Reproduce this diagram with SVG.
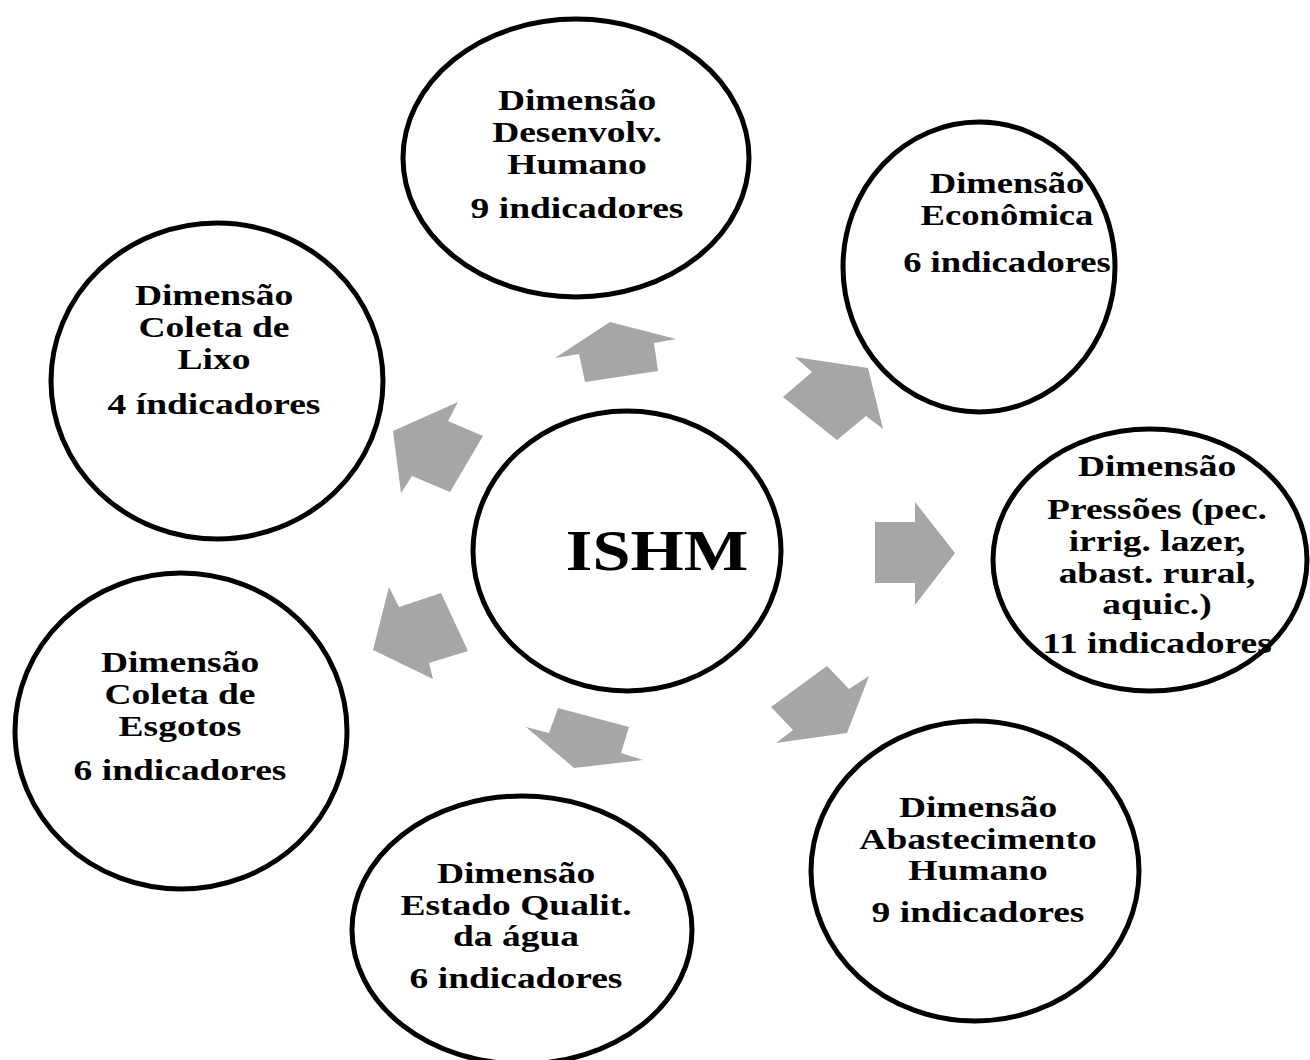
<svg xmlns="http://www.w3.org/2000/svg" width="1310" height="1060" viewBox="0 0 1310 1060">
<style>
.node ellipse{fill:#fff;stroke:#000;stroke-width:5}
.t{font-family:"Liberation Serif","Times New Roman",serif;font-weight:bold;font-size:30px;text-anchor:middle;fill:#000}
.big{font-size:57px}
.arr{fill:#a6a6a6;stroke:none}
</style>
<rect width="1310" height="1060" fill="#fff"/>
<g id="connectors">
<polygon class="arr" points="610,322 676,339 654,343 658,371 585,382 579,354 555,358"/>
<polygon class="arr" points="795,357 868,368 883,429 866,416 837,440 783,397 812,372"/>
<polygon class="arr" points="875,522 915,522 915,502 955,553 915,605 915,583 875,583"/>
<polygon class="arr" points="827,666 849,689 869,676 847,733 776,743 793,730 771,707"/>
<polygon class="arr" points="558,708 629,727 621,753 643,760 574,768 526,727 549,733"/>
<polygon class="arr" points="389,587 399,607 441,593 468,651 429,663 433,679 373,650"/>
<polygon class="arr" points="458,402 448,421 483,436 450,492 412,476 401,493 393,431"/>
</g>
<g id="node-ishm" class="node">
<ellipse cx="627" cy="551" rx="154" ry="140"/>
<g transform="translate(657 0) scale(1.2 1)"><text class="t big" x="0" y="570">ISHM</text></g>
</g>
<g id="node-desenvolv" class="node">
<ellipse cx="576" cy="158" rx="173" ry="139"/>
<g transform="translate(577 0) scale(1.25 1)">
<text class="t" x="0" y="110">Dimensão</text>
<text class="t" x="0" y="142">Desenvolv.</text>
<text class="t" x="0" y="174">Humano</text>
<text class="t" x="0" y="218">9 indicadores</text>
</g>
</g>
<g id="node-economica" class="node">
<ellipse cx="979" cy="267" rx="136" ry="145"/>
<g transform="translate(1007 0) scale(1.22 1)">
<text class="t" x="0" y="193">Dimensão</text>
<text class="t" x="0" y="225">Econômica</text>
<text class="t" x="0" y="272">6 indicadores</text>
</g>
</g>
<g id="node-pressoes" class="node">
<ellipse cx="1150" cy="560" rx="157" ry="131"/>
<g transform="translate(1157 0) scale(1.25 1)">
<text class="t" x="0" y="476">Dimensão</text>
<text class="t" x="0" y="519">Pressões (pec.</text>
<text class="t" x="0" y="551">irrig. lazer,</text>
<text class="t" x="0" y="583">abast. rural,</text>
<text class="t" x="0" y="614">aquic.)</text>
<text class="t" x="0" y="653">11 indicadores</text>
</g>
</g>
<g id="node-abastecimento" class="node">
<ellipse cx="975" cy="871" rx="164" ry="150"/>
<g transform="translate(978 0) scale(1.25 1)">
<text class="t" x="0" y="817">Dimensão</text>
<text class="t" x="0" y="849">Abastecimento</text>
<text class="t" x="0" y="880">Humano</text>
<text class="t" x="0" y="922">9 indicadores</text>
</g>
</g>
<g id="node-estado" class="node">
<ellipse cx="522" cy="930" rx="170" ry="134"/>
<g transform="translate(516 0) scale(1.25 1)">
<text class="t" x="0" y="883">Dimensão</text>
<text class="t" x="0" y="915">Estado Qualit.</text>
<text class="t" x="0" y="946">da água</text>
<text class="t" x="0" y="988">6 indicadores</text>
</g>
</g>
<g id="node-esgotos" class="node">
<ellipse cx="181" cy="731" rx="166" ry="158"/>
<g transform="translate(180 0) scale(1.25 1)">
<text class="t" x="0" y="672">Dimensão</text>
<text class="t" x="0" y="704">Coleta de</text>
<text class="t" x="0" y="736">Esgotos</text>
<text class="t" x="0" y="780">6 indicadores</text>
</g>
</g>
<g id="node-lixo" class="node">
<ellipse cx="217" cy="381" rx="166" ry="158"/>
<g transform="translate(214 0) scale(1.25 1)">
<text class="t" x="0" y="305">Dimensão</text>
<text class="t" x="0" y="337">Coleta de</text>
<text class="t" x="0" y="369">Lixo</text>
<text class="t" x="0" y="414">4 índicadores</text>
</g>
</g>
</svg>
